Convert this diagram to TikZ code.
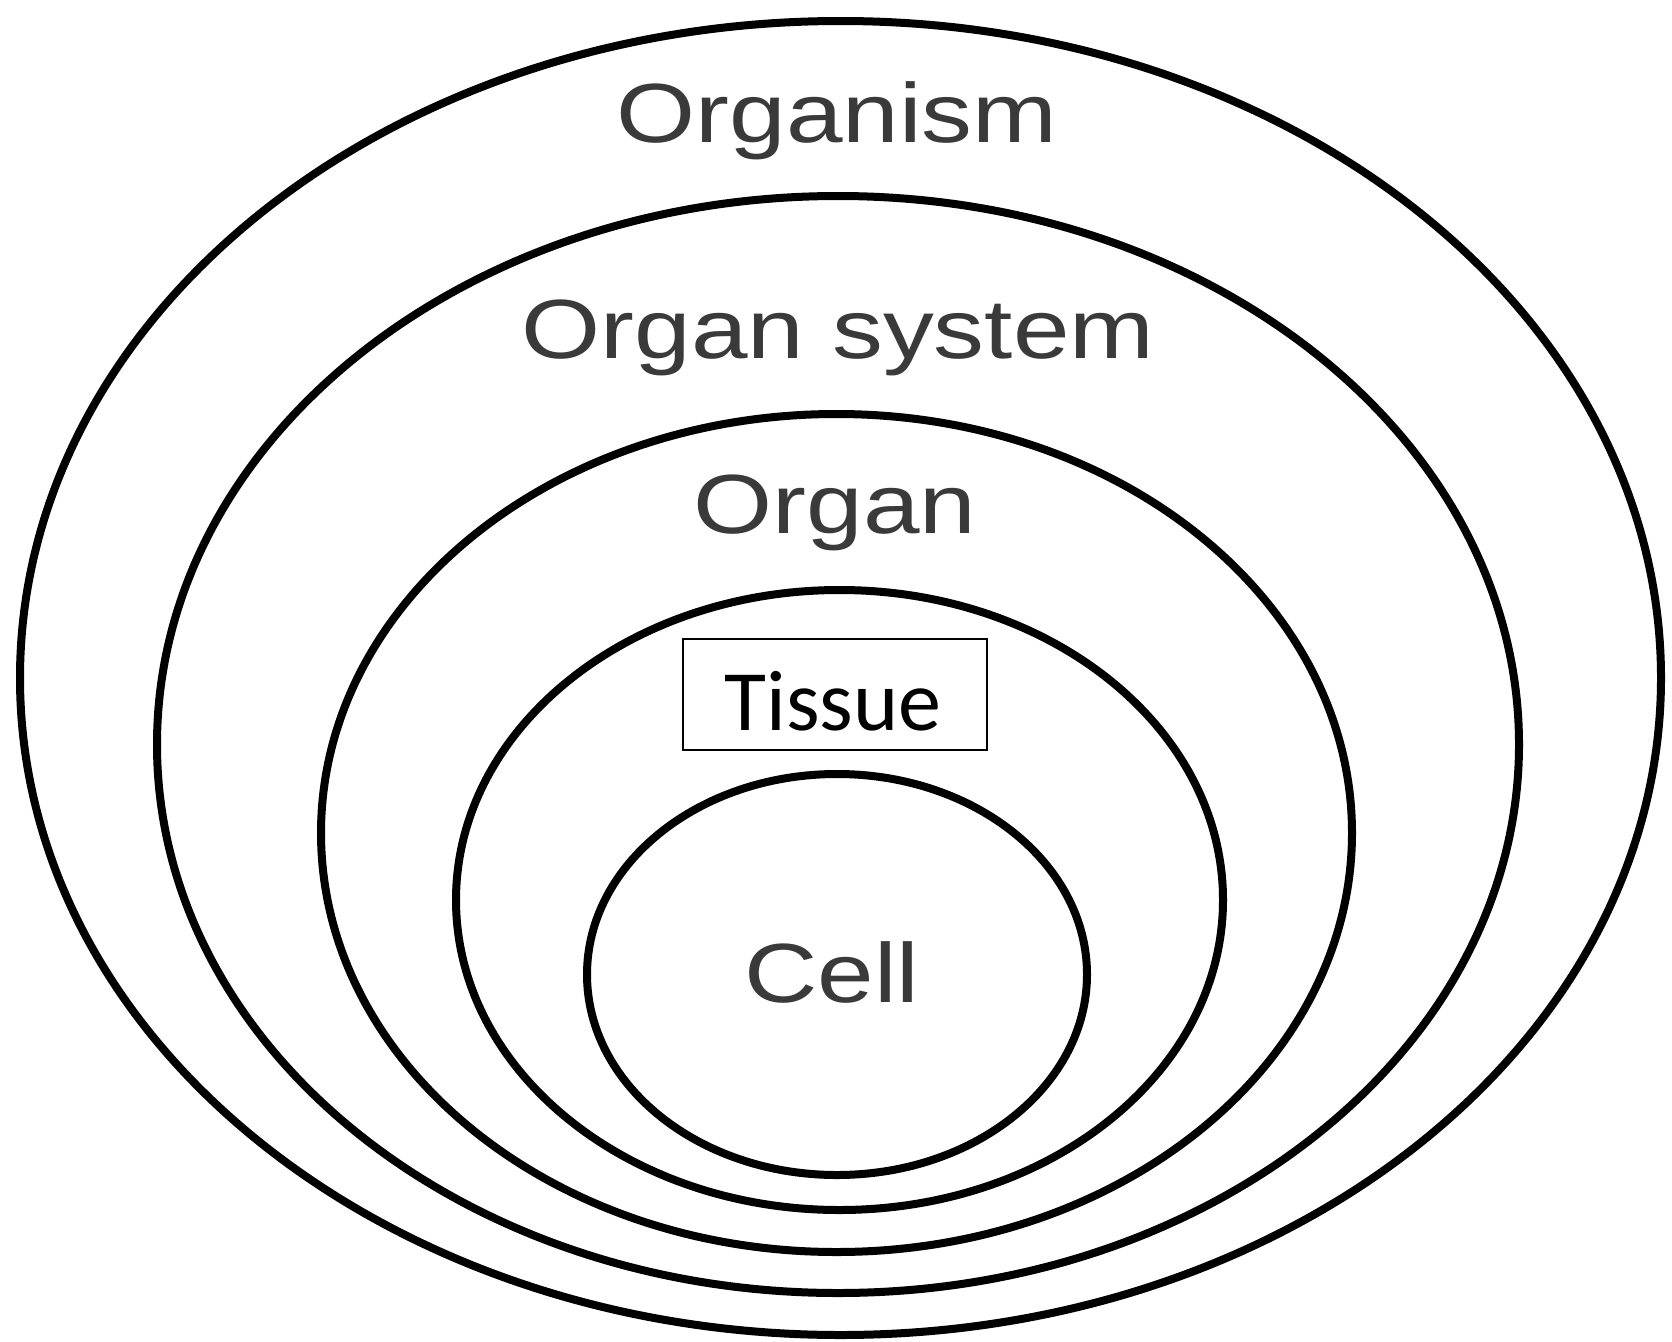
\documentclass[tikz,border=0pt]{standalone}
\usepackage{fontspec}
\setmainfont{Liberation Sans}
\newfontfamily\arialf{Liberation Sans}
\newfontfamily\calibrif{Carlito}
\usetikzlibrary{shapes.geometric}
\definecolor{labelgray}{HTML}{3A3A3A}
\tikzset{
  ring/.style={draw=black, line width=8pt, ellipse, inner sep=0pt, fill=none},
  levellabel/.style={anchor=base, inner sep=0pt, text=labelgray,
    font=\arialf\fontsize{84}{84}\selectfont},
  tissuebox/.style={draw=black, line width=2.2pt, fill=white, inner sep=0pt,
    minimum width=304pt, minimum height=111pt},
}
\begin{document}
\begin{tikzpicture}[x=1pt,y=-1pt]
\fill[white] (0,0) rectangle (1672,1341);
\useasboundingbox (0,0) rectangle (1672,1341);
% rings
\node[ring, minimum width=1641pt, minimum height=1314pt] (organismring) at (840.5,678) {};
\node[ring, minimum width=1362pt, minimum height=1097pt] (systemring) at (838,744.5) {};
\node[ring, minimum width=1031pt, minimum height=838pt] (organring) at (836.5,833) {};
\node[ring, minimum width=767pt, minimum height=620pt] (tissuering) at (839.5,900) {};
\node[ring, minimum width=500pt, minimum height=401pt] (cellring) at (837,974.5) {};
% labels
\node[levellabel] (organism) at (837,142) {\scalebox{1.21}[1]{Organism}};
\node[levellabel] (organsystem) at (838,358) {\scalebox{1.21}[1]{Organ system}};
\node[levellabel] (organ) at (835,533) {\scalebox{1.21}[1]{Organ}};
\node[levellabel] (cell) at (832,1002) {\scalebox{1.21}[1]{Cell}};
% tissue box
\node[tissuebox] (tissuebox) at (835,694.5) {};
\node[anchor=base, inner sep=0pt, font=\calibrif\fontsize{86}{86}\selectfont] (tissue) at (833,730) {Tissue};
\end{tikzpicture}
\end{document}
